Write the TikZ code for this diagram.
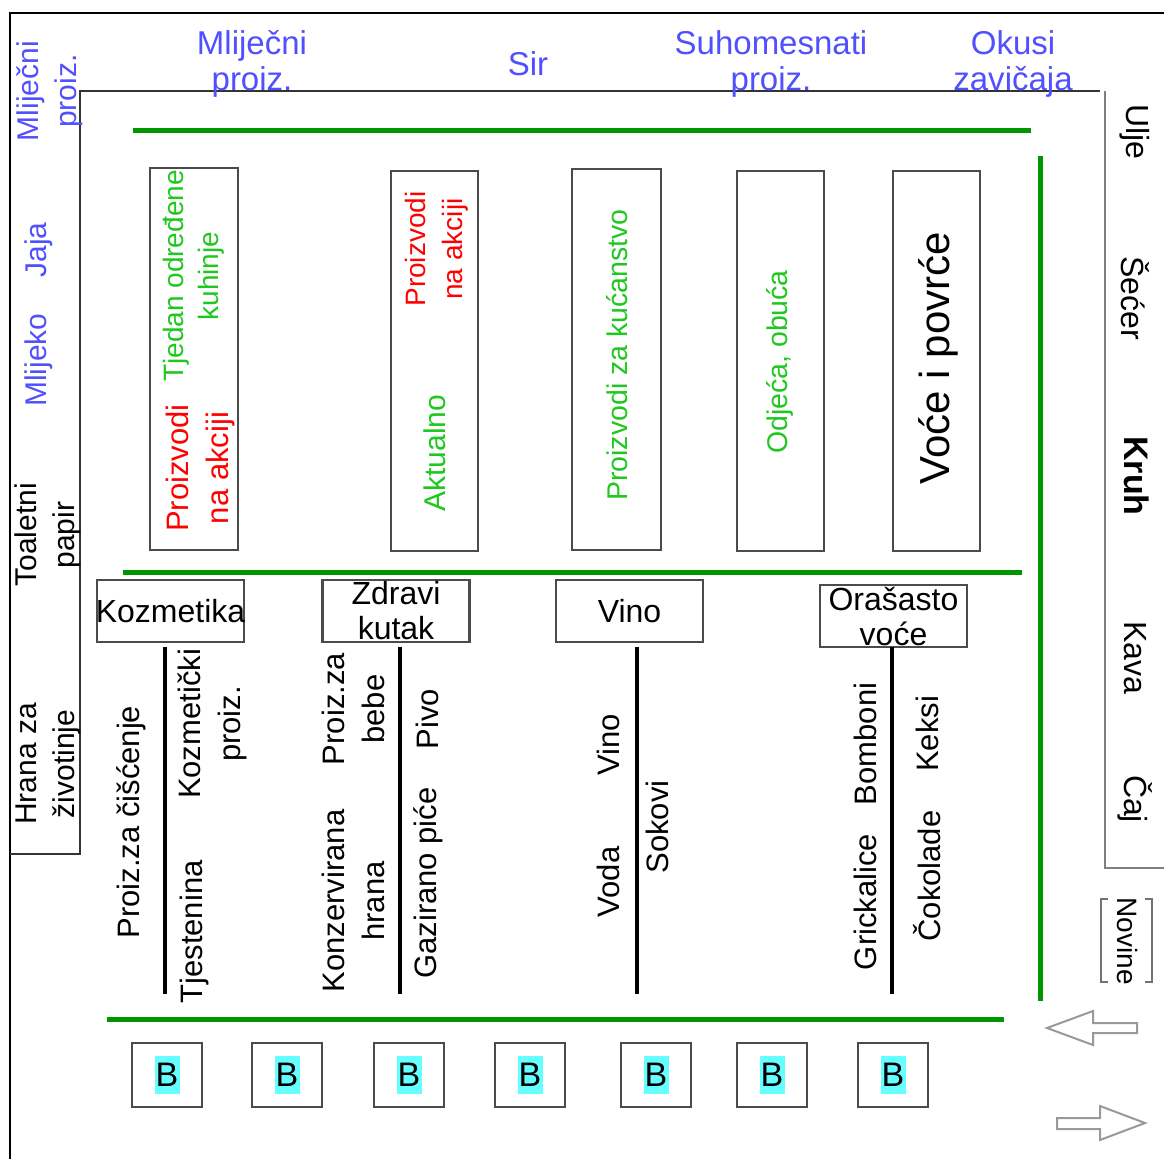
\documentclass[tikz,border=0pt]{standalone}
\usepackage{fontspec}
\setmainfont{Liberation Sans}
\usetikzlibrary{positioning}

\definecolor{planblue}{RGB}{80,80,255}
\definecolor{plangreen}{RGB}{30,200,30}
\definecolor{aislegreen}{RGB}{0,150,0}
\definecolor{shelfgray}{RGB}{75,75,75}
\definecolor{tagcyan}{RGB}{102,255,255}

\begin{document}
\begin{tikzpicture}[x=1pt,y=-1pt]
	\tikzstyle{wall}=[line width=2.5pt,black]
	\tikzstyle{aisle}=[line width=5pt,aislegreen]
	\tikzstyle{shelf}=[line width=4pt,black]
	\tikzstyle{rack}=[draw=shelfgray,line width=2.5pt,inner sep=0pt]
	\tikzstyle{shelfhead}=[rack,minimum width=147pt,minimum height=62pt]
	\tikzstyle{headtxt}=[align=center,inner sep=0pt,font=\fontsize{32}{35}\selectfont]
	\tikzstyle{toplbl}=[planblue,align=center,font=\fontsize{33}{36}\selectfont]
	\tikzstyle{sidelbl}=[rotate=90,align=center,font=\fontsize{30}{38}\selectfont]
	\tikzstyle{rightlbl}=[rotate=-90,font=\fontsize{32}{36}\selectfont]
	\tikzstyle{goods}=[rotate=90,align=center,font=\fontsize{31}{40}\selectfont]
	\tikzstyle{till}=[draw=shelfgray,line width=2pt,minimum width=70pt,minimum height=64pt]
	\tikzstyle{tillmark}=[fill=tagcyan,inner sep=0pt,minimum width=25pt,minimum height=38pt,font=\fontsize{34}{34}\selectfont]
	\tikzstyle{door}=[draw=black!40,line width=2pt]

	\useasboundingbox (0,0) rectangle (1164,1159);
	\fill[white] (0,0) rectangle (1164,1159);

	% walls
	\draw[wall] (10,1159) -- (10,13) -- (1164,13);
	\draw[wall,line width=2pt,black!80] (10,854) -- (80,854) -- (80,91) -- (1100,91);
	\draw[wall,line width=2pt,black!50] (1105,91) -- (1105,868) -- (1164,868);

	% aisles
	\draw[aisle] (133,130) -- (1031,130);
	\draw[aisle] (1040,156) -- (1040,1001);
	\draw[aisle] (123,572) -- (1022,572);
	\draw[aisle] (107,1019) -- (1004,1019);

	% along the walls
	\foreach \name/\x/\txt in {mlijecni/252/Mliječni\\proiz., sir/528/Sir, suho/771/Suhomesnati\\proiz., okusi/1013/Okusi\\zavičaja}
		\node[toplbl] (\name) at (\x,64) {\txt};
	\foreach \name/\x/\y/\txt in {lmlijecni/50/91/Mliječni\\proiz., jaja/39/250/Jaja, mlijeko/39/360/Mlijeko}
		\node[sidelbl,planblue] (\name) at (\x,\y) {\txt};
	\node[sidelbl] (toaletni) at (48,535) {Toaletni\\papir};
	\node[sidelbl] (hrana) at (48,764) {Hrana za\\životinje};
	\foreach \name/\y/\txt in {ulje/132/Ulje, secer/298/Šećer, kava/658/Kava, caj/799/Čaj}
		\node[rightlbl] (\name) at (1135,\y) {\txt};
	\node[rightlbl,font=\fontsize{34}{36}\selectfont\bfseries] (kruh) at (1137,476) {Kruh};
	\node[rightlbl,font=\fontsize{28}{30}\selectfont] (novine) at (1127,941) {Novine};
	\draw[door,black!55] (1108,899) -- (1101,899) -- (1101,982) -- (1108,982);
	\draw[door,black!55] (1145,899) -- (1152,899) -- (1152,982) -- (1145,982);

	% upper racks
	\foreach \name/\x/\y/\w/\h in {kuhinje/194/359/88/382, akcija/434.5/361/87/380, kucanstvo/616.5/359.5/89/381, odjeca/780.5/361/87/380, voce/936.5/361/87/380}
		\node[rack,minimum width=\w pt,minimum height=\h pt] (\name) at (\x,\y) {};
	\node[goods,plangreen,font=\fontsize{28}{35}\selectfont] (tjedan) at (194,276) {Tjedan određene\\kuhinje};
	\node[goods,red,font=\fontsize{31}{40}\selectfont] (akcija1) at (200,468) {Proizvodi\\na akciji};
	\node[goods,red,font=\fontsize{28}{37}\selectfont] (akcija2) at (437,249) {Proizvodi\\na akciji};
	\node[goods,plangreen,font=\fontsize{30}{36}\selectfont] (aktualno) at (435,453) {Aktualno};
	\node[goods,plangreen,font=\fontsize{28.5}{36}\selectfont] (kucanstvotxt) at (617,355) {Proizvodi za kućanstvo};
	\node[goods,plangreen,font=\fontsize{28.5}{36}\selectfont] (odjecatxt) at (780,362) {Odjeća, obuća};
	\node[goods,font=\fontsize{42}{48}\selectfont] (vocetxt) at (938,358) {Voće i povrće};

	% lower shelves
	\foreach \name/\x/\y/\txt in {kozmetika/170.5/611/Kozmetika, zdravi/396/611/Zdravi\\kutak, vino/629.5/611/Vino, orasasto/893.5/616/Orašasto\\voće}{
		\node[shelfhead] (\name) at (\x,\y) {};
		\node[headtxt] (\name txt) at (\name) {\txt};
	}
	\foreach \x in {165,400,637,892}
		\draw[shelf] (\x,647) -- (\x,994);
	\foreach \name/\x/\y/\txt in {ciscenje/131/822/Proiz.za čišćenje, tjestenina/194/932/Tjestenina, kozmeticki/212/724/Kozmetički\\proiz., bebe/353/709/Proiz.za\\bebe, konzerve/353/901/Konzervirana\\hrana, pivo/427/719/Pivo, gazirano/428/883/Gazirano piće, vinotxt/608/745/Vino, voda/608/882/Voda, sokovi/657/827/Sokovi, bomboni/865/744/Bomboni, grickalice/865/902/Grickalice, keksi/927/734/Keksi, cokolade/927/876/Čokolade}
		\node[goods] (\name) at (\x,\y) {\txt};

	% tills
	\foreach \i/\x in {1/167,2/287,3/409,4/530,5/656,6/772,7/893}{
		\node[till] (till\i) at (\x,1075) {};
		\node[tillmark] (mark\i) at (till\i) {B};
	}

	% entrance and exit
	\draw[door] (1047,1028) -- (1093,1011) -- (1093,1023) -- (1137,1023) -- (1137,1033) -- (1093,1033) -- (1093,1045) -- cycle;
	\draw[door] (1145,1123) -- (1100,1106) -- (1100,1118) -- (1057,1118) -- (1057,1129) -- (1100,1129) -- (1100,1140) -- cycle;
\end{tikzpicture}
\end{document}
